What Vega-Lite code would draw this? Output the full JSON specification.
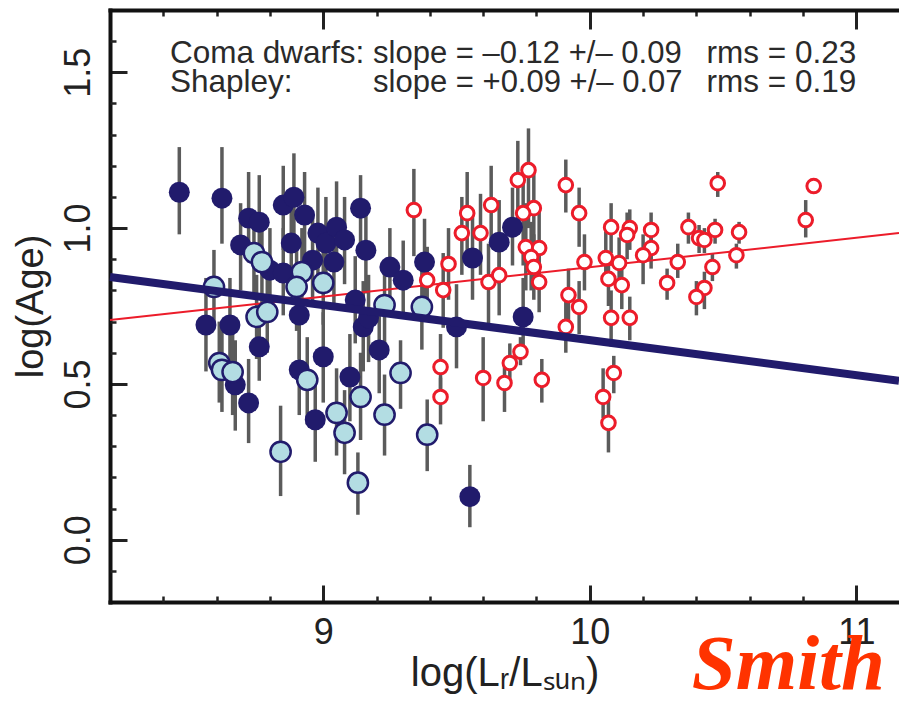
{
  "$schema": "https://vega.github.io/schema/vega-lite/v6.json",
  "width": 789,
  "height": 592,
  "autosize": {"type": "none"},
  "padding": {"left": 110, "top": 10, "right": 0, "bottom": 99},
  "background": "white",
  "config": {"view": {"stroke": null}, "axis": {"grid": false}},
  "title": {"text": "Smith", "orient": "bottom", "anchor": "end", "frame": "group", "font": "Liberation Serif", "fontStyle": "italic", "fontWeight": "bold", "fontSize": 79, "color": "#ff3300", "dx": -14, "dy": -66, "offset": 0},
  "datasets": {
    "pts": [
      {"g": "Coma dwarfs", "x": 8.46, "y": 1.115, "lo": 0.98, "hi": 1.26},
      {"g": "Coma dwarfs", "x": 8.62, "y": 1.096, "lo": 0.95, "hi": 1.26},
      {"g": "Coma dwarfs", "x": 8.72, "y": 1.032, "lo": 0.89, "hi": 1.18},
      {"g": "Coma dwarfs", "x": 8.76, "y": 1.019, "lo": 0.87, "hi": 1.17},
      {"g": "Coma dwarfs", "x": 8.69, "y": 0.946, "lo": 0.80, "hi": 1.08},
      {"g": "Coma dwarfs", "x": 8.85, "y": 1.074, "lo": 0.93, "hi": 1.20},
      {"g": "Coma dwarfs", "x": 8.89, "y": 1.099, "lo": 0.95, "hi": 1.24},
      {"g": "Coma dwarfs", "x": 8.98, "y": 0.984, "lo": 0.84, "hi": 1.13},
      {"g": "Coma dwarfs", "x": 9.01, "y": 0.952, "lo": 0.80, "hi": 1.10},
      {"g": "Coma dwarfs", "x": 9.05, "y": 1.003, "lo": 0.86, "hi": 1.15},
      {"g": "Coma dwarfs", "x": 9.08, "y": 0.962, "lo": 0.82, "hi": 1.10},
      {"g": "Coma dwarfs", "x": 9.14, "y": 1.064, "lo": 0.95, "hi": 1.17},
      {"g": "Coma dwarfs", "x": 9.16, "y": 0.929, "lo": 0.79, "hi": 1.07},
      {"g": "Coma dwarfs", "x": 9.25, "y": 0.875, "lo": 0.75, "hi": 1.00},
      {"g": "Coma dwarfs", "x": 9.30, "y": 0.833, "lo": 0.71, "hi": 0.96},
      {"g": "Coma dwarfs", "x": 9.38, "y": 0.891, "lo": 0.76, "hi": 1.03},
      {"g": "Coma dwarfs", "x": 8.80, "y": 0.865, "lo": 0.73, "hi": 1.00},
      {"g": "Coma dwarfs", "x": 8.85, "y": 0.856, "lo": 0.72, "hi": 1.00},
      {"g": "Coma dwarfs", "x": 8.91, "y": 0.721, "lo": 0.58, "hi": 0.86},
      {"g": "Coma dwarfs", "x": 8.56, "y": 0.689, "lo": 0.54, "hi": 0.84},
      {"g": "Coma dwarfs", "x": 8.65, "y": 0.689, "lo": 0.52, "hi": 0.84},
      {"g": "Coma dwarfs", "x": 8.76, "y": 0.619, "lo": 0.51, "hi": 0.76},
      {"g": "Coma dwarfs", "x": 8.67, "y": 0.497, "lo": 0.35, "hi": 0.64},
      {"g": "Coma dwarfs", "x": 8.72, "y": 0.439, "lo": 0.31, "hi": 0.58},
      {"g": "Coma dwarfs", "x": 8.91, "y": 0.545, "lo": 0.40, "hi": 0.69},
      {"g": "Coma dwarfs", "x": 9.00, "y": 0.587, "lo": 0.44, "hi": 0.73},
      {"g": "Coma dwarfs", "x": 8.97, "y": 0.385, "lo": 0.25, "hi": 0.52},
      {"g": "Coma dwarfs", "x": 9.15, "y": 0.683, "lo": 0.54, "hi": 0.83},
      {"g": "Coma dwarfs", "x": 9.21, "y": 0.609, "lo": 0.47, "hi": 0.75},
      {"g": "Coma dwarfs", "x": 9.10, "y": 0.522, "lo": 0.38, "hi": 0.66},
      {"g": "Coma dwarfs", "x": 9.50, "y": 0.683, "lo": 0.55, "hi": 0.82},
      {"g": "Coma dwarfs", "x": 9.55, "y": 0.138, "lo": 0.04, "hi": 0.24},
      {"g": "Coma dwarfs", "x": 9.56, "y": 0.904, "lo": 0.77, "hi": 1.04},
      {"g": "Coma dwarfs", "x": 9.66, "y": 0.955, "lo": 0.82, "hi": 1.09},
      {"g": "Coma dwarfs", "x": 9.71, "y": 1.003, "lo": 0.88, "hi": 1.13},
      {"g": "Coma dwarfs", "x": 9.75, "y": 0.715, "lo": 0.60, "hi": 0.84},
      {"g": "Coma dwarfs", "x": 9.12, "y": 0.769, "lo": 0.63, "hi": 0.91},
      {"g": "Coma dwarfs", "x": 9.04, "y": 0.891, "lo": 0.75, "hi": 1.03},
      {"g": "Coma dwarfs", "x": 8.96, "y": 0.897, "lo": 0.76, "hi": 1.04},
      {"g": "Coma dwarfs", "x": 9.17, "y": 0.712, "lo": 0.57, "hi": 0.85},
      {"g": "Coma dwarfs", "x": 8.93, "y": 1.042, "lo": 0.90, "hi": 1.18},
      {"g": "Coma dwarfs", "x": 8.88, "y": 0.952, "lo": 0.81, "hi": 1.09},
      {"g": "Coma dwarfs (b)", "x": 8.74, "y": 0.920, "lo": 0.78, "hi": 1.05},
      {"g": "Coma dwarfs (b)", "x": 8.77, "y": 0.891, "lo": 0.75, "hi": 1.03},
      {"g": "Coma dwarfs (b)", "x": 8.92, "y": 0.859, "lo": 0.72, "hi": 1.00},
      {"g": "Coma dwarfs (b)", "x": 8.90, "y": 0.811, "lo": 0.67, "hi": 0.95},
      {"g": "Coma dwarfs (b)", "x": 9.00, "y": 0.824, "lo": 0.69, "hi": 0.96},
      {"g": "Coma dwarfs (b)", "x": 8.59, "y": 0.811, "lo": 0.68, "hi": 0.93},
      {"g": "Coma dwarfs (b)", "x": 8.75, "y": 0.715, "lo": 0.58, "hi": 0.85},
      {"g": "Coma dwarfs (b)", "x": 8.79, "y": 0.731, "lo": 0.60, "hi": 0.87},
      {"g": "Coma dwarfs (b)", "x": 9.23, "y": 0.753, "lo": 0.62, "hi": 0.89},
      {"g": "Coma dwarfs (b)", "x": 9.37, "y": 0.747, "lo": 0.61, "hi": 0.88},
      {"g": "Coma dwarfs (b)", "x": 8.61, "y": 0.567, "lo": 0.44, "hi": 0.70},
      {"g": "Coma dwarfs (b)", "x": 8.62, "y": 0.545, "lo": 0.41, "hi": 0.68},
      {"g": "Coma dwarfs (b)", "x": 8.66, "y": 0.538, "lo": 0.40, "hi": 0.67},
      {"g": "Coma dwarfs (b)", "x": 8.84, "y": 0.282, "lo": 0.14, "hi": 0.43},
      {"g": "Coma dwarfs (b)", "x": 8.94, "y": 0.513, "lo": 0.37, "hi": 0.65},
      {"g": "Coma dwarfs (b)", "x": 9.05, "y": 0.407, "lo": 0.27, "hi": 0.55},
      {"g": "Coma dwarfs (b)", "x": 9.29, "y": 0.535, "lo": 0.42, "hi": 0.64},
      {"g": "Coma dwarfs (b)", "x": 9.14, "y": 0.458, "lo": 0.32, "hi": 0.60},
      {"g": "Coma dwarfs (b)", "x": 9.23, "y": 0.401, "lo": 0.27, "hi": 0.53},
      {"g": "Coma dwarfs (b)", "x": 9.08, "y": 0.343, "lo": 0.21, "hi": 0.48},
      {"g": "Coma dwarfs (b)", "x": 9.39, "y": 0.337, "lo": 0.22, "hi": 0.45},
      {"g": "Coma dwarfs (b)", "x": 9.13, "y": 0.183, "lo": 0.08, "hi": 0.28},
      {"g": "Shapley", "x": 9.34, "y": 1.058, "lo": 0.91, "hi": 1.19},
      {"g": "Shapley", "x": 9.47, "y": 0.885, "lo": 0.77, "hi": 1.00},
      {"g": "Shapley", "x": 9.39, "y": 0.833, "lo": 0.72, "hi": 0.94},
      {"g": "Shapley", "x": 9.45, "y": 0.801, "lo": 0.68, "hi": 0.92},
      {"g": "Shapley", "x": 9.54, "y": 1.048, "lo": 0.90, "hi": 1.18},
      {"g": "Shapley", "x": 9.63, "y": 1.074, "lo": 0.95, "hi": 1.20},
      {"g": "Shapley", "x": 9.52, "y": 0.984, "lo": 0.85, "hi": 1.10},
      {"g": "Shapley", "x": 9.59, "y": 0.984, "lo": 0.85, "hi": 1.11},
      {"g": "Shapley", "x": 9.62, "y": 0.827, "lo": 0.69, "hi": 0.95},
      {"g": "Shapley", "x": 9.66, "y": 0.849, "lo": 0.72, "hi": 0.97},
      {"g": "Shapley", "x": 9.73, "y": 1.154, "lo": 0.98, "hi": 1.28},
      {"g": "Shapley", "x": 9.77, "y": 1.186, "lo": 1.00, "hi": 1.32},
      {"g": "Shapley", "x": 9.91, "y": 1.138, "lo": 1.05, "hi": 1.22},
      {"g": "Shapley", "x": 9.96, "y": 1.048, "lo": 0.94, "hi": 1.13},
      {"g": "Shapley", "x": 9.79, "y": 1.064, "lo": 0.90, "hi": 1.20},
      {"g": "Shapley", "x": 9.75, "y": 1.048, "lo": 0.88, "hi": 1.20},
      {"g": "Shapley", "x": 10.08, "y": 1.003, "lo": 0.92, "hi": 1.08},
      {"g": "Shapley", "x": 10.15, "y": 1.000, "lo": 0.93, "hi": 1.06},
      {"g": "Shapley", "x": 10.14, "y": 0.978, "lo": 0.90, "hi": 1.05},
      {"g": "Shapley", "x": 10.23, "y": 0.994, "lo": 0.90, "hi": 1.05},
      {"g": "Shapley", "x": 10.23, "y": 0.936, "lo": 0.87, "hi": 1.00},
      {"g": "Shapley", "x": 10.20, "y": 0.913, "lo": 0.82, "hi": 0.98},
      {"g": "Shapley", "x": 10.37, "y": 1.003, "lo": 0.95, "hi": 1.05},
      {"g": "Shapley", "x": 10.41, "y": 0.968, "lo": 0.92, "hi": 1.01},
      {"g": "Shapley", "x": 10.43, "y": 0.962, "lo": 0.92, "hi": 1.00},
      {"g": "Shapley", "x": 10.47, "y": 0.994, "lo": 0.95, "hi": 1.03},
      {"g": "Shapley", "x": 10.48, "y": 1.144, "lo": 1.10, "hi": 1.18},
      {"g": "Shapley", "x": 10.56, "y": 0.987, "lo": 0.95, "hi": 1.02},
      {"g": "Shapley", "x": 10.55, "y": 0.913, "lo": 0.87, "hi": 0.95},
      {"g": "Shapley", "x": 10.46, "y": 0.875, "lo": 0.83, "hi": 0.92},
      {"g": "Shapley", "x": 10.43, "y": 0.808, "lo": 0.74, "hi": 0.86},
      {"g": "Shapley", "x": 10.40, "y": 0.779, "lo": 0.72, "hi": 0.83},
      {"g": "Shapley", "x": 10.33, "y": 0.891, "lo": 0.84, "hi": 0.95},
      {"g": "Shapley", "x": 10.29, "y": 0.824, "lo": 0.77, "hi": 0.87},
      {"g": "Shapley", "x": 10.84, "y": 1.135, "lo": 1.11, "hi": 1.16},
      {"g": "Shapley", "x": 10.81, "y": 1.026, "lo": 0.97, "hi": 1.09},
      {"g": "Shapley", "x": 9.76, "y": 0.939, "lo": 0.80, "hi": 1.08},
      {"g": "Shapley", "x": 9.81, "y": 0.936, "lo": 0.82, "hi": 1.06},
      {"g": "Shapley", "x": 9.78, "y": 0.907, "lo": 0.80, "hi": 1.02},
      {"g": "Shapley", "x": 9.79, "y": 0.875, "lo": 0.77, "hi": 0.98},
      {"g": "Shapley", "x": 9.81, "y": 0.827, "lo": 0.73, "hi": 0.92},
      {"g": "Shapley", "x": 9.98, "y": 0.891, "lo": 0.80, "hi": 0.98},
      {"g": "Shapley", "x": 10.06, "y": 0.904, "lo": 0.82, "hi": 0.99},
      {"g": "Shapley", "x": 10.11, "y": 0.888, "lo": 0.81, "hi": 0.97},
      {"g": "Shapley", "x": 10.07, "y": 0.837, "lo": 0.75, "hi": 0.92},
      {"g": "Shapley", "x": 10.12, "y": 0.817, "lo": 0.74, "hi": 0.90},
      {"g": "Shapley", "x": 9.92, "y": 0.785, "lo": 0.70, "hi": 0.87},
      {"g": "Shapley", "x": 9.96, "y": 0.747, "lo": 0.66, "hi": 0.83},
      {"g": "Shapley", "x": 9.91, "y": 0.683, "lo": 0.60, "hi": 0.77},
      {"g": "Shapley", "x": 10.08, "y": 0.712, "lo": 0.62, "hi": 0.80},
      {"g": "Shapley", "x": 10.15, "y": 0.712, "lo": 0.64, "hi": 0.78},
      {"g": "Shapley", "x": 9.74, "y": 0.603, "lo": 0.56, "hi": 0.65},
      {"g": "Shapley", "x": 9.70, "y": 0.567, "lo": 0.50, "hi": 0.63},
      {"g": "Shapley", "x": 9.68, "y": 0.503, "lo": 0.41, "hi": 0.57},
      {"g": "Shapley", "x": 9.82, "y": 0.513, "lo": 0.44, "hi": 0.58},
      {"g": "Shapley", "x": 10.09, "y": 0.535, "lo": 0.47, "hi": 0.59},
      {"g": "Shapley", "x": 10.05, "y": 0.458, "lo": 0.39, "hi": 0.55},
      {"g": "Shapley", "x": 10.07, "y": 0.375, "lo": 0.28, "hi": 0.47},
      {"g": "Shapley", "x": 9.44, "y": 0.554, "lo": 0.45, "hi": 0.66},
      {"g": "Shapley", "x": 9.44, "y": 0.458, "lo": 0.37, "hi": 0.52},
      {"g": "Shapley", "x": 9.60, "y": 0.519, "lo": 0.38, "hi": 0.65}
    ],
    "fits": [
      {"g": "Coma dwarfs", "x": 8.2, "y": 0.843},
      {"g": "Coma dwarfs", "x": 11.16, "y": 0.510},
      {"g": "Shapley", "x": 8.2, "y": 0.705},
      {"g": "Shapley", "x": 11.16, "y": 0.984}
    ]
  },
  "layer": [
    {
      "data": {"name": "pts"},
      "mark": {"type": "rule", "color": "#5b5b5b", "strokeWidth": 3.5},
      "encoding": {
        "x": {"field": "x", "type": "quantitative", "scale": {"domain": [8.2, 11.16], "nice": false, "zero": false},
          "title": "log(Lᵣ/Lₛᵤₙ)",
          "axis": {"orient": "bottom", "values": [9, 10, 11], "format": "d",
            "tickSize": -17, "tickWidth": 3, "tickColor": "#222",
            "domain": true, "domainColor": "#111", "domainWidth": 4, "domainCap": "square",
            "labelFont": "Liberation Sans", "labelFontSize": 36, "labelColor": "#222", "labelPadding": 30,
            "labelBaseline": "top", "labelAlign": "center", "labelFlush": false,
            "titleFont": "Liberation Sans", "titleFontSize": 40, "titleColor": "#222", "titleFontWeight": "normal", "titlePadding": 3}},
        "y": {"field": "lo", "type": "quantitative", "scale": {"domain": [-0.2, 1.7], "nice": false, "zero": false},
          "title": "log(Age)",
          "axis": {"orient": "left", "values": [0, 0.5, 1, 1.5], "format": ".1f",
            "tickSize": -17, "tickWidth": 3, "tickColor": "#222",
            "domain": true, "domainColor": "#111", "domainWidth": 4, "domainCap": "square",
            "labelFont": "Liberation Sans", "labelFontSize": 36, "labelColor": "#222", "labelPadding": 38,
            "labelAngle": -90, "labelAlign": "center", "labelBaseline": "alphabetic", "labelFlush": false,
            "titleFont": "Liberation Sans", "titleFontSize": 38, "titleColor": "#222", "titleFontWeight": "normal", "titlePadding": 10}},
        "y2": {"field": "hi"}
      }
    },
    {
      "data": {"name": "fits"},
      "transform": [{"filter": "datum.g == 'Shapley'"}],
      "mark": {"type": "line", "color": "#ec1c2a", "strokeWidth": 2},
      "encoding": {
        "x": {"field": "x", "type": "quantitative", "title": null,
          "axis": {"orient": "bottom", "values": [8.4, 8.6, 8.8, 9.2, 9.4, 9.6, 9.8, 10.2, 10.4, 10.6, 10.8],
            "labels": false, "domain": false, "tickSize": -6, "tickWidth": 2.5, "tickColor": "#222"}},
        "y": {"field": "y", "type": "quantitative", "title": null,
          "axis": {"orient": "left", "values": [-0.1, 0.1, 0.2, 0.3, 0.4, 0.6, 0.7, 0.8, 0.9, 1.1, 1.2, 1.3, 1.4, 1.6],
            "labels": false, "domain": false, "tickSize": -6, "tickWidth": 2.5, "tickColor": "#222"}}
      }
    },
    {
      "data": {"name": "pts"},
      "transform": [{"filter": "datum.g == 'Shapley'"}],
      "mark": {"type": "circle", "fill": "white", "stroke": "#ec1c2a", "strokeWidth": 3, "size": 185, "opacity": 1},
      "encoding": {
        "x": {"field": "x", "type": "quantitative", "title": null,
          "axis": {"orient": "top", "values": [8.4, 8.6, 8.8, 9.2, 9.4, 9.6, 9.8, 10.2, 10.4, 10.6, 10.8],
            "labels": false, "domain": false, "tickSize": -6, "tickWidth": 2.5, "tickColor": "#222"}},
        "y": {"field": "y", "type": "quantitative", "axis": null}
      }
    },
    {
      "data": {"name": "pts"},
      "transform": [{"filter": "datum.g == 'Coma dwarfs'"}],
      "mark": {"type": "circle", "fill": "#211b6c", "size": 440, "opacity": 1},
      "encoding": {
        "x": {"field": "x", "type": "quantitative", "axis": null},
        "y": {"field": "y", "type": "quantitative", "axis": null}
      }
    },
    {
      "data": {"name": "pts"},
      "transform": [{"filter": "datum.g == 'Coma dwarfs (b)'"}],
      "mark": {"type": "circle", "fill": "#b3dde3", "stroke": "#211b6c", "strokeWidth": 2.5, "size": 410, "opacity": 1},
      "encoding": {
        "x": {"field": "x", "type": "quantitative", "axis": null},
        "y": {"field": "y", "type": "quantitative", "axis": null}
      }
    },
    {
      "data": {"values": [{}]},
      "mark": {"type": "text", "text": ["Coma dwarfs:", "Shapley:"], "align": "left", "baseline": "alphabetic", "font": "Liberation Sans", "fontSize": 31.5, "lineHeight": 29, "color": "#2a2a2a"},
      "encoding": {
        "x": {"datum": 8.425, "type": "quantitative", "axis": null},
        "y": {"datum": 1.529, "type": "quantitative", "axis": null}
      }
    },
    {
      "data": {"values": [{}]},
      "mark": {"type": "text", "text": ["slope = –0.12 +/– 0.09", "slope = +0.09 +/– 0.07"], "align": "left", "baseline": "alphabetic", "font": "Liberation Sans", "fontSize": 31, "lineHeight": 29, "color": "#2a2a2a"},
      "encoding": {
        "x": {"datum": 9.187, "type": "quantitative", "axis": null},
        "y": {"datum": 1.529, "type": "quantitative", "axis": null}
      }
    },
    {
      "data": {"values": [{}]},
      "mark": {"type": "text", "text": ["rms = 0.23", "rms = 0.19"], "align": "left", "baseline": "alphabetic", "font": "Liberation Sans", "fontSize": 31.5, "lineHeight": 29, "color": "#2a2a2a"},
      "encoding": {
        "x": {"datum": 10.438, "type": "quantitative", "axis": null},
        "y": {"datum": 1.529, "type": "quantitative", "axis": null}
      }
    },
    {
      "data": {"name": "fits"},
      "transform": [{"filter": "datum.g == 'Coma dwarfs'"}],
      "mark": {"type": "line", "color": "#211b6c", "strokeWidth": 8},
      "encoding": {
        "x": {"field": "x", "type": "quantitative", "title": null,
          "axis": {"orient": "top", "values": [9, 10, 11], "labels": false,
            "tickSize": -19, "tickWidth": 3, "tickColor": "#222",
            "domain": true, "domainColor": "#111", "domainWidth": 4, "domainCap": "square"}},
        "y": {"field": "y", "type": "quantitative", "axis": null}
      }
    }
  ],
  "resolve": {"axis": {"x": "independent", "y": "independent"}}
}
